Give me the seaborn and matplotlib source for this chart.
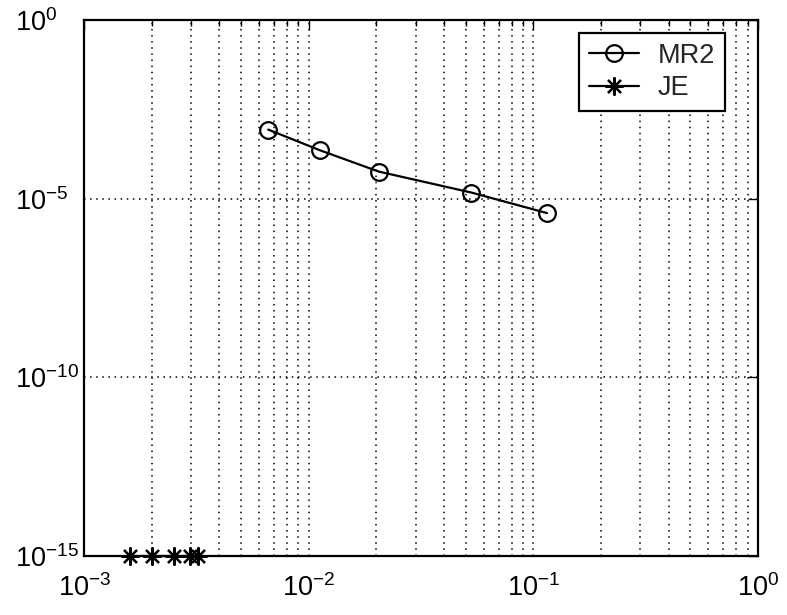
import numpy as np
import pandas as pd
import matplotlib
matplotlib.use('Agg')
import matplotlib.pyplot as plt
import seaborn as sns
from matplotlib.ticker import LogLocator, NullLocator, LogFormatterSciNotation

# data
mr2_h = [6.6e-3, 1.12e-2, 2.05e-2, 5.3e-2, 1.15e-1]
mr2_err = [8.7e-4, 2.3e-4, 5.8e-5, 1.5e-5, 4.0e-6]
je_h = [1.6e-3, 2.0e-3, 2.5e-3, 2.95e-3, 3.2e-3]
je_err = [1e-15, 1e-15, 1e-15, 1e-15, 1e-15]

x_ticks = [1e-3, 1e-2, 1e-1, 1e0]
y_ticks = [1e-15, 1e-10, 1e-5, 1e0]

sns.set_theme(style='white')
plt.rcParams['font.family'] = ['Liberation Sans', 'DejaVu Sans']
plt.rcParams['mathtext.fontset'] = 'custom'
plt.rcParams['mathtext.rm'] = 'Liberation Sans'
plt.rcParams['mathtext.it'] = 'Liberation Sans:italic'
plt.rcParams['mathtext.bf'] = 'Liberation Sans:bold'

fig, ax = plt.subplots(figsize=(7.87, 6.15), dpi=100)
fig.subplots_adjust(left=0.107, right=0.963, top=0.967, bottom=0.096)

sns.lineplot(x=mr2_h, y=mr2_err, ax=ax, color='black', linewidth=1.6,
             marker='o', markersize=12, markerfacecolor='none',
             markeredgecolor='black', markeredgewidth=1.6, label='MR2')
sns.lineplot(x=je_h, y=je_err, ax=ax, color='black', linewidth=1.6,
             marker=(8, 2, 0), markersize=13, markeredgecolor='black',
             markeredgewidth=1.6, label='JE', clip_on=False)

ax.set(xscale='log', yscale='log')
ax.set_xlim(1e-3, 1e0)
ax.set_ylim(1e-15, 1e0)
ax.set_xticks(x_ticks)
ax.xaxis.set_minor_locator(LogLocator(base=10, subs=np.arange(2, 10), numticks=20))
ax.set_yticks(y_ticks)
ax.yaxis.set_minor_locator(NullLocator())
ax.xaxis.set_major_formatter(LogFormatterSciNotation())
ax.yaxis.set_major_formatter(LogFormatterSciNotation())

ax.grid(True, which='major', axis='both', color='black', linestyle=(0, (1, 3)), linewidth=1.1)
ax.grid(True, which='minor', axis='x', color='black', linestyle=(0, (1, 3)), linewidth=1.1)

ax.tick_params(which='both', direction='in', top=True, right=True, colors='black',
               labelsize=19.5, width=1.0)
ax.tick_params(which='major', length=7)
ax.tick_params(which='minor', length=4)
ax.tick_params(axis='x', which='major', pad=13)
# y labels start at a fixed left position, like the reference
ax.tick_params(axis='y', which='major', pad=50)
plt.setp(ax.get_yticklabels(), ha='left')
for s in ax.spines.values():
    s.set_color('black')
    s.set_linewidth(1.6)

leg = ax.legend(loc='upper right', bbox_to_anchor=(0.951, 0.976), borderaxespad=0,
                fancybox=False, edgecolor='black', framealpha=1, fontsize=19.5,
                handlelength=1.85, handletextpad=0.7, borderpad=0.35, labelspacing=0.25)
leg.get_frame().set_linewidth(1.6)

ax.set_xlabel('')
ax.set_ylabel('')
fig.savefig('out.png', dpi=100)
